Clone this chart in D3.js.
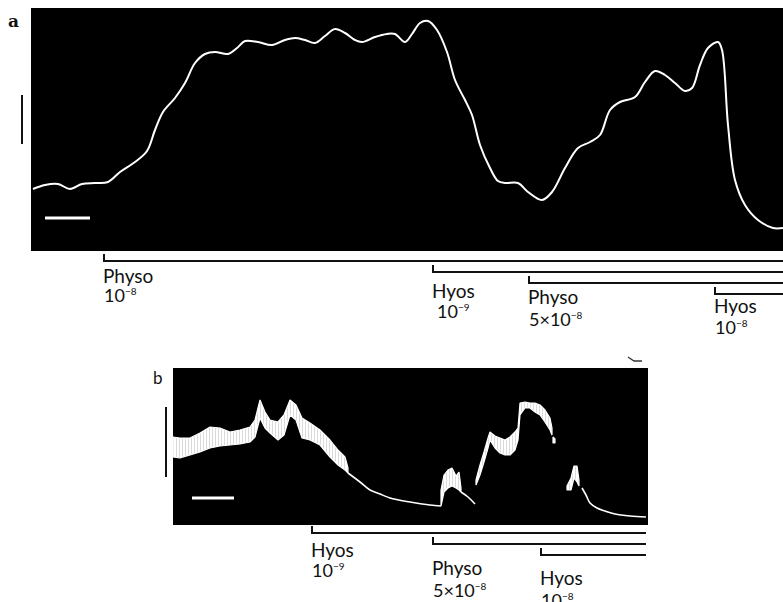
<!DOCTYPE html>
<html>
<head>
<meta charset="utf-8">
<script src="https://cdn.jsdelivr.net/npm/d3@7"></script>
<style>
  body { margin: 0; background: #fff; }
  text { font-family: Lato, "Open Sans", sans-serif; fill: #111; }
</style>
</head>
<body>
<svg id="fig" width="783" height="602"></svg>
<script>
// ---- Panel a : single smooth trace (time, deflection in chart mm) ----
const traceATime = [0.2, 1.4, 2.7, 3.9, 5.1, 6.4, 7.7, 8.9, 10.4, 11.6, 12.4, 13.2, 14.4, 15.4, 16.4, 17.4,
  18.4, 19.7, 20.6, 21.4, 22.7, 24.1, 25.4, 26.4, 27.4, 28.4, 29.4, 30.4, 31.4, 32.4, 33.1, 34.4, 35.6,
  36.4, 37.4, 38.1, 38.9, 39.7, 40.6, 41.6, 42.4, 43.4, 44.1, 44.9, 45.9, 46.7, 47.4, 48.7, 49.7, 51.1,
  52.1, 53.4, 54.7, 55.9, 56.9, 57.9, 58.9, 60.4, 61.4, 62.4, 63.4, 64.4, 65.4, 66.1, 66.9, 67.7, 68.7,
  69.1, 69.7, 70.4, 71.4, 72.7, 74.2, 75.2];
const traceAValue = [6.2, 6.6, 6.7, 6.2, 6.7, 6.8, 6.9, 7.9, 8.9, 10.0, 12.1, 13.9, 15.3, 16.8, 18.8, 19.7,
  19.9, 19.7, 20.3, 21.0, 20.9, 20.6, 21.1, 21.3, 21.1, 20.8, 21.5, 22.2, 21.8, 21.1, 20.9, 21.4, 21.7,
  21.7, 20.9, 21.7, 22.8, 23.0, 22.1, 19.9, 17.1, 15.1, 13.6, 10.6, 8.3, 7.0, 6.8, 6.8, 5.9, 5.1,
  5.9, 8.3, 10.3, 10.9, 11.6, 14.1, 14.9, 15.4, 16.9, 18.0, 17.6, 16.8, 16.0, 16.3, 18.6, 20.3, 20.9,
  20.1, 12.6, 7.1, 4.6, 3.1, 2.3, 2.3];

const drugsA = ["Physo", "Hyos", "Physo", "Hyos"];
const doseAPrefix = ["", "", "5\u00d7", ""];
const doseAExp = ["\u22128", "\u22129", "\u22128", "\u22128"];
const drugATime = [7.3, 40.2, 49.8, 68.4];

// ---- Panel b : oscillating trace, [time, upper, lower] ----
const bandB1 = [[0, 8.8, 6.8], [0.7, 8.7, 6.7], [1.7, 8.7, 7.0], [2.7, 9.2, 7.3], [3.7, 9.8, 7.7],
  [4.7, 9.7, 7.9], [5.7, 9.3, 8.0], [6.7, 9.5, 8.1], [7.7, 9.8, 8.3], [8.2, 10.5, 8.8], [8.7, 12.5, 10.7],
  [9.2, 11.3, 9.7], [9.7, 10.5, 9.2], [10.5, 10.3, 8.5], [11.1, 11.0, 9.0], [11.7, 12.5, 11.0],
  [12.3, 12.0, 10.5], [12.9, 10.7, 8.7], [13.7, 10.2, 8.5], [14.7, 9.5, 8.0], [15.7, 8.5, 6.8],
  [16.5, 7.5, 6.0], [17.2, 6.8, 5.5], [17.5, 5.7, 5.2]];
const decayB1 = [[17.5, 5.2], [18.7, 4.3], [19.7, 3.5], [20.7, 3.1], [21.7, 2.7], [23.7, 2.3], [25.7, 2.0], [26.8, 1.9]];
const bandB2 = [[26.8, 3.5, 1.9], [27.1, 5.0, 3.3], [27.5, 5.5, 3.7], [27.9, 5.7, 3.9], [28.3, 4.9, 3.7],
  [28.6, 5.3, 3.5], [28.8, 3.7, 3.3]];
const decayB2 = [[28.8, 3.3], [29.5, 2.8], [30.2, 2.1]];
const bandB3 = [[30.3, 4.5, 4.0], [30.7, 6.0, 5.0], [31.1, 7.3, 6.3], [31.5, 8.7, 7.7], [31.7, 9.3, 8.5],
  [32.2, 8.9, 7.7], [32.7, 8.7, 7.2], [33.2, 8.5, 7.0], [33.7, 8.8, 7.0], [34.2, 9.3, 7.5], [34.5, 9.7, 8.5],
  [34.7, 12.2, 11.0], [35.2, 12.3, 11.7], [35.7, 12.2, 11.7], [36.2, 12.2, 11.3], [36.7, 12.0, 11.0],
  [37.2, 11.5, 10.3], [37.7, 10.7, 9.5], [37.9, 9.7, 9.0]];
const bandB4 = [[38.0, 8.8, 8.2], [38.2, 8.6, 8.2]];
const bandB5 = [[39.4, 3.9, 3.5], [39.8, 4.7, 3.5], [40.1, 5.9, 4.7], [40.4, 5.9, 4.3], [40.6, 4.5, 3.9]];
const decayB3 = [[40.9, 3.7], [41.3, 3.0], [41.7, 2.2], [42.4, 1.7], [43.2, 1.4], [44.2, 1.1], [45.7, 0.9], [47.3, 0.8]];

const drugsB = ["Hyos", "Physo", "Hyos"];
const doseBPrefix = ["", "5\u00d7", ""];
const doseBExp = ["\u22129", "\u22128", "\u22128"];
const drugBTime = [13.9, 26.0, 36.8];

const svg = d3.select("#fig");

// faint vertical striation for the oscillating band
const pat = svg.append("defs").append("pattern")
  .attr("id", "stria").attr("patternUnits", "userSpaceOnUse")
  .attr("width", 3).attr("height", 6);
pat.append("rect").attr("width", 3).attr("height", 6).attr("fill", "#fff");
pat.append("rect").attr("x", 2.2).attr("width", 0.8).attr("height", 6).attr("fill", "#000").attr("opacity", 0.18);

function drawBrackets(times, names, prefixes, exps, x, yFirst, xEnd, nameDy, valDy, valDx) {
  const g = svg.append("g");
  times.forEach((t, i) => {
    const y0 = yFirst + i * 11;
    const x0 = x(t);
    g.append("path")
      .attr("d", `M${x0},${y0 - 7}V${y0}H${xEnd}`)
      .attr("fill", "none").attr("stroke", "#111").attr("stroke-width", 2);
    g.append("text").attr("x", x0 - 1).attr("y", y0 + nameDy[i])
      .style("font-size", "19px").text(names[i]);
    const v = g.append("text").attr("x", x0 + valDx[i]).attr("y", y0 + nameDy[i] + valDy[i])
      .style("font-size", "18px");
    v.append("tspan").text(prefixes[i] + "10");
    v.append("tspan").attr("dy", -7).style("font-size", "10px").text(exps[i]);
  });
}

// ---------------- Panel a ----------------
const xA = d3.scaleLinear().domain([0, 75.2]).range([31, 783]);
const yA = d3.scaleLinear().domain([0, 24.3]).range([251, 8]);

svg.append("rect").attr("x", xA(0)).attr("y", yA(24.3))
  .attr("width", xA(75.2) - xA(0)).attr("height", yA(0) - yA(24.3)).attr("fill", "#000");

const lineA = d3.line().x(d => xA(d[0])).y(d => yA(d[1])).curve(d3.curveCatmullRom.alpha(0.5));
svg.append("path").datum(traceATime.map((t, i) => [t, traceAValue[i]]))
  .attr("d", lineA).attr("fill", "none").attr("stroke", "#fff").attr("stroke-width", 2);

// scale bars
svg.append("line").attr("x1", xA(-0.9)).attr("x2", xA(-0.9)).attr("y1", yA(10.7)).attr("y2", yA(15.6))
  .attr("stroke", "#111").attr("stroke-width", 2);
svg.append("line").attr("x1", xA(1.4)).attr("x2", xA(5.9)).attr("y1", yA(3.3)).attr("y2", yA(3.3))
  .attr("stroke", "#fff").attr("stroke-width", 3);

svg.append("text").attr("x", 8).attr("y", 27)
  .style("font-family", "'DejaVu Serif', serif").style("font-weight", "bold").style("font-size", "17px").text("a");

drawBrackets(drugATime, drugsA, doseAPrefix, doseAExp, xA, 261, xA(75.2), [22, 26, 21, 19], [19, 20, 22, 21], [0, 4, 0, 0]);

// ---------------- Panel b ----------------
const xB = d3.scaleLinear().domain([0, 47.5]).range([173, 648]);
const yB = d3.scaleLinear().domain([0, 15.7]).range([525, 368]);

svg.append("rect").attr("x", xB(0)).attr("y", yB(15.7))
  .attr("width", xB(47.5) - xB(0)).attr("height", yB(0) - yB(15.7)).attr("fill", "#000");

const areaB = d3.area().x(d => xB(d[0])).y0(d => yB(d[2])).y1(d => yB(d[1]));
const lineB = d3.line().x(d => xB(d[0])).y(d => yB(d[1])).curve(d3.curveCatmullRom.alpha(0.5));

[bandB1, bandB2, bandB3, bandB4, bandB5].forEach(seg => {
  svg.append("path").datum(seg).attr("d", areaB)
    .attr("fill", "url(#stria)").attr("stroke", "#fff").attr("stroke-width", 1.2).attr("stroke-linejoin", "bevel");
});
[decayB1, decayB2, decayB3].forEach(seg => {
  svg.append("path").datum(seg).attr("d", lineB)
    .attr("fill", "none").attr("stroke", "#fff").attr("stroke-width", 1.6);
});

svg.append("line").attr("x1", xB(-0.7)).attr("x2", xB(-0.7)).attr("y1", yB(4.8)).attr("y2", yB(11.8))
  .attr("stroke", "#111").attr("stroke-width", 2);
svg.append("line").attr("x1", xB(1.9)).attr("x2", xB(6.1)).attr("y1", yB(2.7)).attr("y2", yB(2.7))
  .attr("stroke", "#fff").attr("stroke-width", 3);

svg.append("text").attr("x", 153).attr("y", 384).style("font-size", "17px").text("b");
svg.append("path").attr("d", "M628,357 L634,361 L642,361").attr("fill", "none")
  .attr("stroke", "#333").attr("stroke-width", 1.3);

drawBrackets(drugBTime, drugsB, doseBPrefix, doseBExp, xB, 533, xB(47.3), [24, 31, 30], [20, 22, 22], [0, 0, 0]);
</script>
</body>
</html>
